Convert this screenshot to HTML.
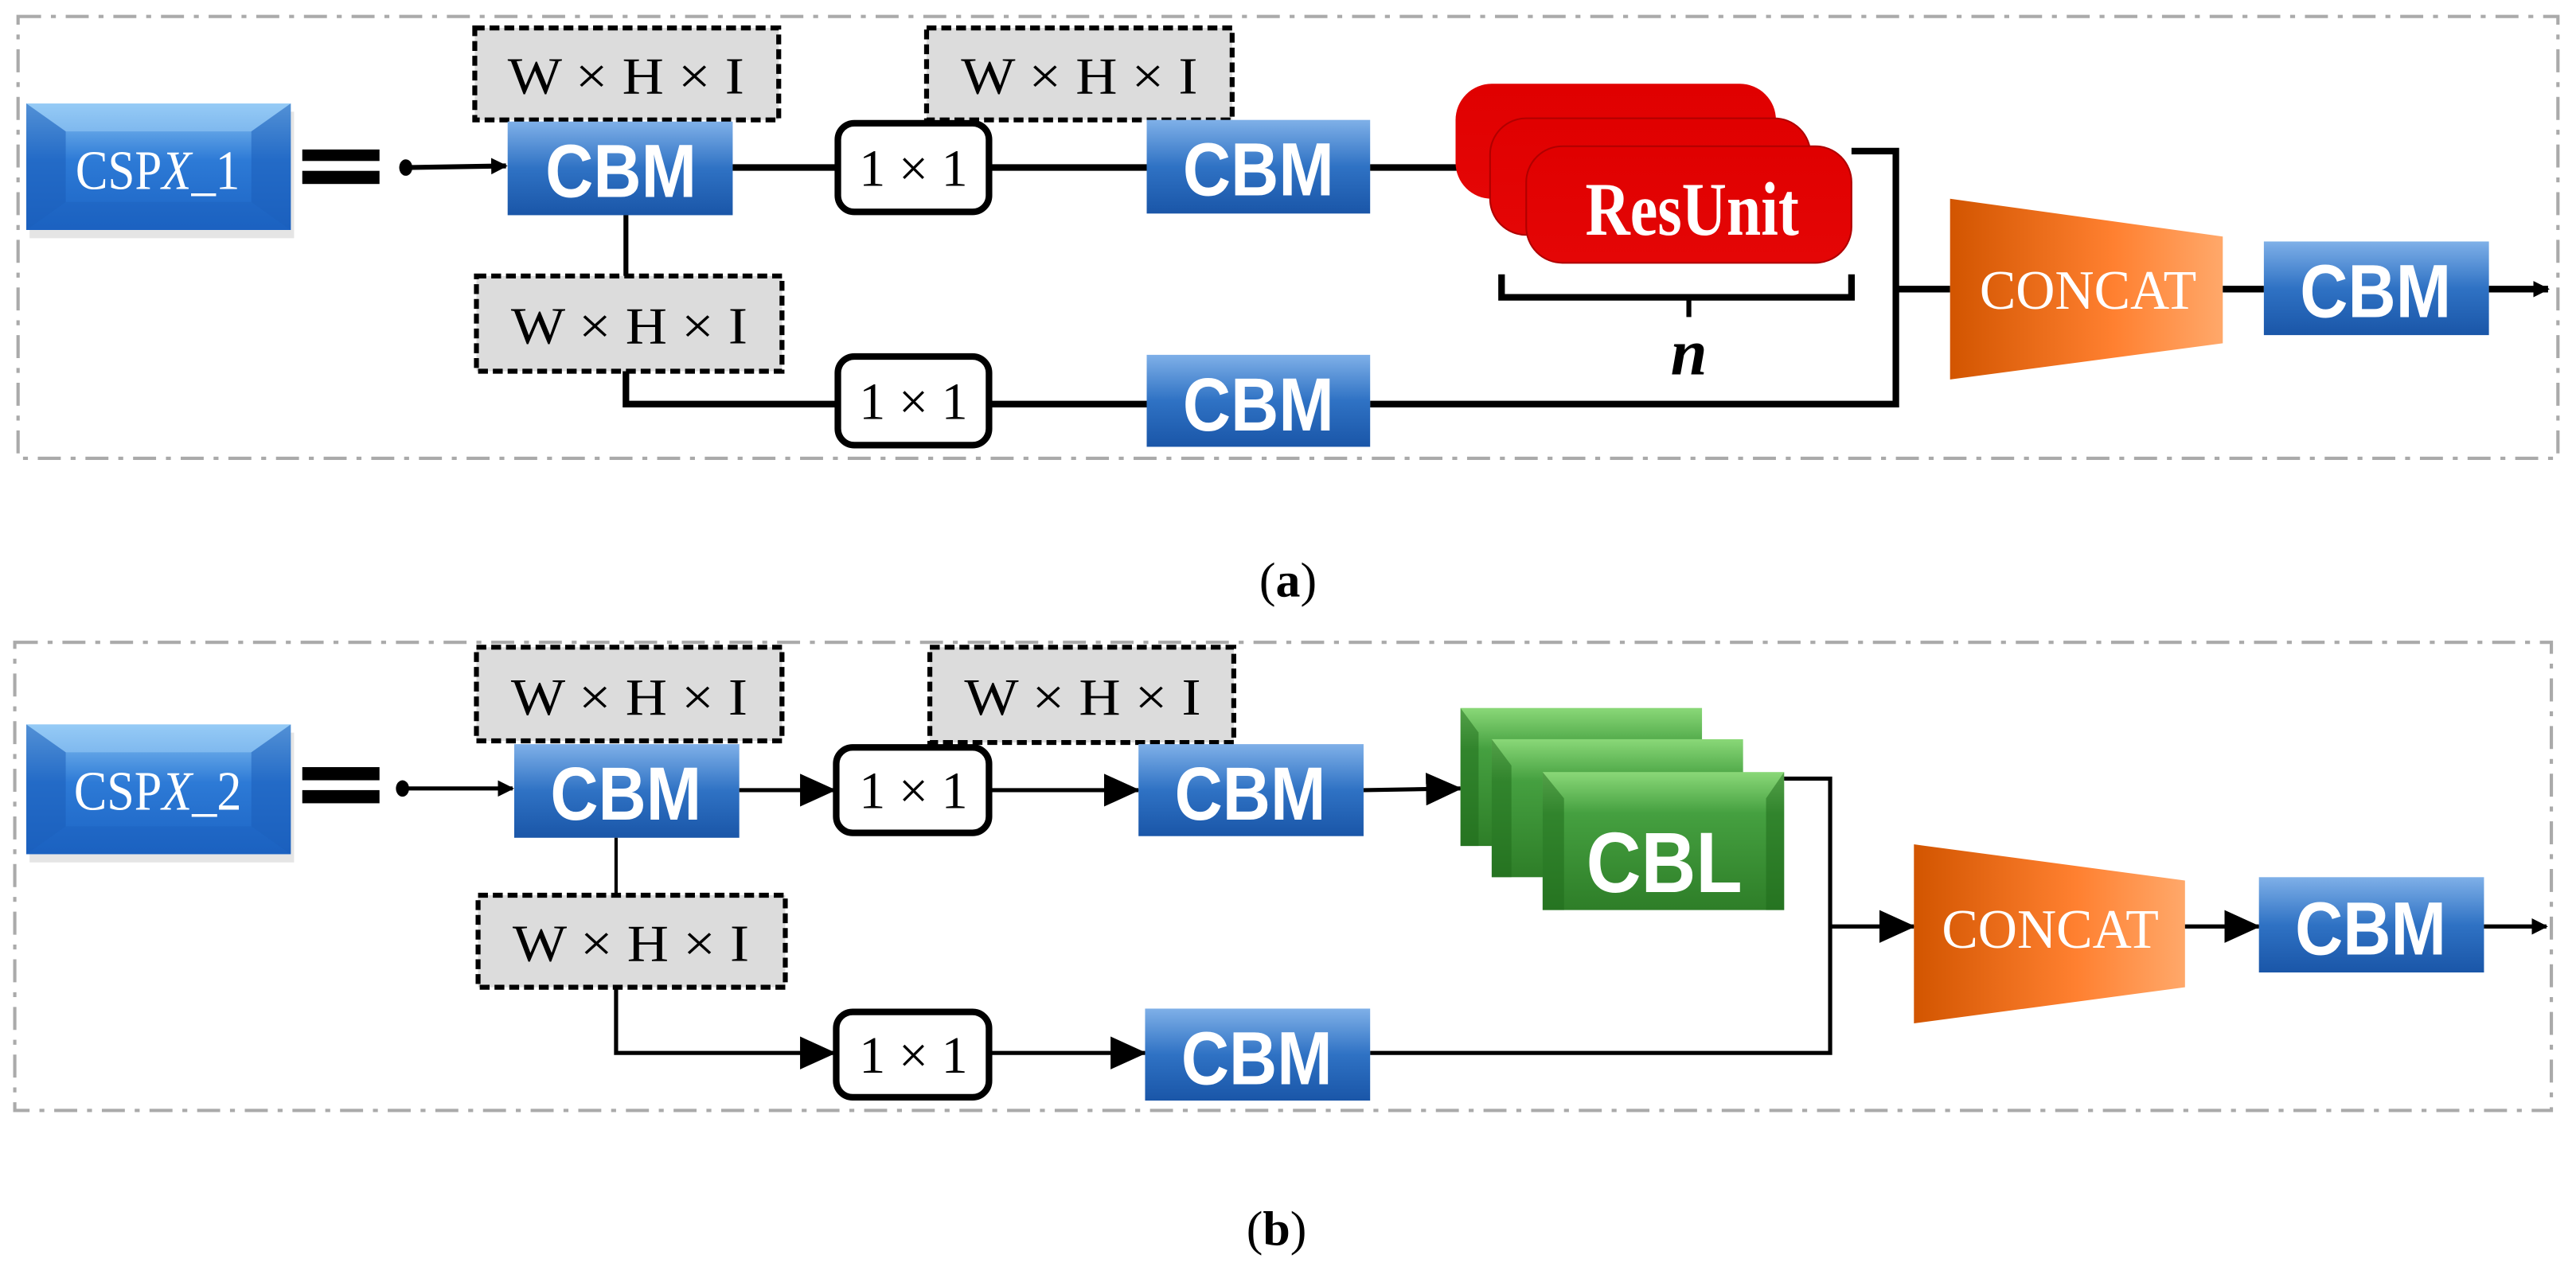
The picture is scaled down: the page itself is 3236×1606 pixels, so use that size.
<!DOCTYPE html>
<html><head><meta charset="utf-8"><style>
html,body{margin:0;padding:0;background:#fff;}
svg{display:block;}
.w{font-family:"Liberation Serif",serif;font-size:32px;fill:#000;}
.cbm{font-family:"Liberation Sans",sans-serif;font-weight:bold;font-size:46px;fill:#fff;}
</style></head><body>
<svg width="3236" height="1606" viewBox="0 0 1568 778" preserveAspectRatio="none" xmlns="http://www.w3.org/2000/svg">
<defs>
<linearGradient id="bl" x1="0" y1="0" x2="0" y2="1"><stop offset="0" stop-color="#7fb0e8"/><stop offset="0.5" stop-color="#2f72c4"/><stop offset="1" stop-color="#1a56a8"/></linearGradient>
<linearGradient id="cs" x1="0" y1="0" x2="0" y2="1"><stop offset="0" stop-color="#8cc6f4"/><stop offset="0.45" stop-color="#2d7ad6"/><stop offset="1" stop-color="#1c64c4"/></linearGradient>
<linearGradient id="or" x1="0" y1="0" x2="1" y2="0"><stop offset="0" stop-color="#d25500"/><stop offset="0.6" stop-color="#ff8030"/><stop offset="1" stop-color="#ffa86a"/></linearGradient>
<linearGradient id="rd" x1="0" y1="0" x2="0" y2="1"><stop offset="0" stop-color="#e00000"/><stop offset="1" stop-color="#e40606"/></linearGradient>
<linearGradient id="gr" x1="0" y1="0" x2="0" y2="1"><stop offset="0" stop-color="#8ad878"/><stop offset="0.3" stop-color="#45a040"/><stop offset="1" stop-color="#2e7e28"/></linearGradient>
<marker id="ah" markerWidth="10" markerHeight="10" refX="9" refY="5" orient="auto" markerUnits="userSpaceOnUse"><path d="M0,0 L10,5 L0,10 z" fill="#000"/></marker>
<marker id="ab" markerWidth="22" markerHeight="20" refX="21" refY="10" orient="auto" markerUnits="userSpaceOnUse"><path d="M0,0 L22,10 L0,20 z" fill="#000"/></marker>
</defs>

<!-- ===== Panel a ===== -->
<rect x="11" y="10" width="1546" height="269" fill="none" stroke="#aaa" stroke-width="2" stroke-dasharray="14,6,3,6"/>
<rect x="18" y="68" width="161" height="77" fill="#ccc" opacity="0.5"/>
<rect x="16" y="63" width="161" height="77" fill="url(#cs)"/>
<polygon points="16,63 177,63 153,80 40,80" fill="#9fd0f8" opacity="0.5"/>
<polygon points="16,63 40,80 40,123 16,140" fill="#1a5cb8" opacity="0.5"/>
<polygon points="177,63 153,80 153,123 177,140" fill="#1a5cb8" opacity="0.5"/>
<polygon points="16,140 40,123 153,123 177,140" fill="#1a5cb8" opacity="0.3"/>
<text x="96" y="115" text-anchor="middle" font-family="Liberation Serif,serif" font-size="34" fill="#fff" textLength="100" lengthAdjust="spacingAndGlyphs">CSP<tspan font-style="italic">X</tspan>_1</text>
<rect x="184" y="91" width="47" height="7" fill="#000"/>
<rect x="184" y="104" width="47" height="8" fill="#000"/>
<ellipse cx="247" cy="102" rx="4" ry="5" fill="#000"/>
<line x1="247" y1="102" x2="308" y2="101" stroke="#000" stroke-width="3" marker-end="url(#ah)"/>
<rect x="289" y="17" width="185" height="56" fill="#dcdcdc" stroke="#000" stroke-width="3" stroke-dasharray="6,3"/>
<text x="381" y="57" class="w" text-anchor="middle" textLength="144" lengthAdjust="spacingAndGlyphs">W × H × I</text>
<rect x="309" y="74" width="137" height="57" fill="url(#bl)"/>
<text x="378" y="120" class="cbm" text-anchor="middle" textLength="92" lengthAdjust="spacingAndGlyphs">CBM</text>
<line x1="446" y1="102" x2="510" y2="102" stroke="#000" stroke-width="4"/>
<rect x="510" y="75" width="92" height="54" rx="10" fill="#fff" stroke="#000" stroke-width="4"/>
<text x="556" y="113" class="w" text-anchor="middle">1 × 1</text>
<line x1="602" y1="102" x2="698" y2="102" stroke="#000" stroke-width="4"/>
<rect x="564" y="17" width="186" height="56" fill="#dcdcdc" stroke="#000" stroke-width="3" stroke-dasharray="6,3"/>
<text x="657" y="57" class="w" text-anchor="middle" textLength="144" lengthAdjust="spacingAndGlyphs">W × H × I</text>
<rect x="698" y="73" width="136" height="57" fill="url(#bl)"/>
<text x="766" y="119" class="cbm" text-anchor="middle" textLength="92" lengthAdjust="spacingAndGlyphs">CBM</text>
<line x1="834" y1="102" x2="890" y2="102" stroke="#000" stroke-width="4"/>
<rect x="886" y="51" width="195" height="70" rx="22" fill="url(#rd)"/>
<rect x="907" y="72" width="195" height="71" rx="22" fill="url(#rd)" stroke="#b00000" stroke-width="1"/>
<rect x="929" y="89" width="198" height="71" rx="22" fill="url(#rd)" stroke="#b00000" stroke-width="1"/>
<text x="1030" y="143" text-anchor="middle" font-family="Liberation Serif,serif" font-weight="bold" font-size="46" fill="#fff" textLength="130" lengthAdjust="spacingAndGlyphs">ResUnit</text>
<polyline points="1127,92 1154,92 1154,246 834,246" fill="none" stroke="#000" stroke-width="4"/>
<polyline points="914,167 914,181 1127,181 1127,167" fill="none" stroke="#000" stroke-width="4"/>
<line x1="1028" y1="181" x2="1028" y2="193" stroke="#000" stroke-width="3"/>
<text x="1028" y="228" text-anchor="middle" font-family="Liberation Serif,serif" font-weight="bold" font-style="italic" font-size="40" fill="#000">n</text>
<line x1="1154" y1="176" x2="1187" y2="176" stroke="#000" stroke-width="4"/>
<polygon points="1187,121 1353,144 1353,209 1187,231" fill="url(#or)"/>
<text x="1271" y="188" text-anchor="middle" font-family="Liberation Serif,serif" font-size="34" fill="#fff" textLength="132" lengthAdjust="spacingAndGlyphs">CONCAT</text>
<line x1="1353" y1="176" x2="1378" y2="176" stroke="#000" stroke-width="4"/>
<rect x="1378" y="147" width="137" height="57" fill="url(#bl)"/>
<text x="1446" y="193" class="cbm" text-anchor="middle" textLength="92" lengthAdjust="spacingAndGlyphs">CBM</text>
<line x1="1515" y1="176" x2="1551" y2="176" stroke="#000" stroke-width="4" marker-end="url(#ah)"/>
<line x1="381" y1="131" x2="381" y2="168" stroke="#000" stroke-width="3"/>
<rect x="290" y="168" width="186" height="58" fill="#dcdcdc" stroke="#000" stroke-width="3" stroke-dasharray="6,3"/>
<text x="383" y="209" class="w" text-anchor="middle" textLength="144" lengthAdjust="spacingAndGlyphs">W × H × I</text>
<polyline points="381,226 381,246 510,246" fill="none" stroke="#000" stroke-width="4"/>
<rect x="510" y="217" width="92" height="54" rx="10" fill="#fff" stroke="#000" stroke-width="4"/>
<text x="556" y="255" class="w" text-anchor="middle">1 × 1</text>
<line x1="602" y1="246" x2="698" y2="246" stroke="#000" stroke-width="4"/>
<rect x="698" y="216" width="136" height="56" fill="url(#bl)"/>
<text x="766" y="262" class="cbm" text-anchor="middle" textLength="92" lengthAdjust="spacingAndGlyphs">CBM</text>
<text x="784" y="363" text-anchor="middle" font-family="Liberation Serif,serif" font-size="30" fill="#000">(<tspan font-weight="bold">a</tspan>)</text>

<!-- ===== Panel b ===== -->
<rect x="9" y="391" width="1544" height="285" fill="none" stroke="#aaa" stroke-width="2" stroke-dasharray="14,6,3,6"/>
<rect x="18" y="446" width="161" height="79" fill="#ccc" opacity="0.5"/>
<rect x="16" y="441" width="161" height="79" fill="url(#cs)"/>
<polygon points="16,441 177,441 153,458 40,458" fill="#9fd0f8" opacity="0.5"/>
<polygon points="16,441 40,458 40,503 16,520" fill="#1a5cb8" opacity="0.5"/>
<polygon points="177,441 153,458 153,503 177,520" fill="#1a5cb8" opacity="0.5"/>
<polygon points="16,520 40,503 153,503 177,520" fill="#1a5cb8" opacity="0.3"/>
<text x="96" y="493" text-anchor="middle" font-family="Liberation Serif,serif" font-size="34" fill="#fff" textLength="102" lengthAdjust="spacingAndGlyphs">CSP<tspan font-style="italic">X</tspan>_2</text>
<rect x="184" y="467" width="47" height="8" fill="#000"/>
<rect x="184" y="481" width="47" height="8" fill="#000"/>
<ellipse cx="245" cy="480" rx="4" ry="5" fill="#000"/>
<line x1="245" y1="480" x2="312" y2="480" stroke="#000" stroke-width="2.5" marker-end="url(#ah)"/>
<rect x="290" y="394" width="186" height="57" fill="#dcdcdc" stroke="#000" stroke-width="3" stroke-dasharray="6,3"/>
<text x="383" y="435" class="w" text-anchor="middle" textLength="144" lengthAdjust="spacingAndGlyphs">W × H × I</text>
<rect x="313" y="453" width="137" height="57" fill="url(#bl)"/>
<text x="381" y="499" class="cbm" text-anchor="middle" textLength="92" lengthAdjust="spacingAndGlyphs">CBM</text>
<line x1="450" y1="481" x2="508" y2="481" stroke="#000" stroke-width="2.5" marker-end="url(#ab)"/>
<rect x="509" y="455" width="93" height="52" rx="10" fill="#fff" stroke="#000" stroke-width="4"/>
<text x="556" y="492" class="w" text-anchor="middle">1 × 1</text>
<line x1="602" y1="481" x2="693" y2="481" stroke="#000" stroke-width="2.5" marker-end="url(#ab)"/>
<rect x="566" y="394" width="185" height="58" fill="#dcdcdc" stroke="#000" stroke-width="3" stroke-dasharray="6,3"/>
<text x="659" y="435" class="w" text-anchor="middle" textLength="144" lengthAdjust="spacingAndGlyphs">W × H × I</text>
<rect x="693" y="453" width="137" height="56" fill="url(#bl)"/>
<text x="761" y="499" class="cbm" text-anchor="middle" textLength="92" lengthAdjust="spacingAndGlyphs">CBM</text>
<line x1="830" y1="481" x2="889" y2="480" stroke="#000" stroke-width="2.5" marker-end="url(#ab)"/>
<rect x="889" y="431" width="147" height="84" fill="url(#gr)"/>
<polygon points="889,431 900,446 900,515 889,515" fill="#1e6a1a" opacity="0.5"/>
<rect x="908" y="450" width="153" height="84" fill="url(#gr)"/>
<polygon points="908,450 920,466 920,534 908,534" fill="#1e6a1a" opacity="0.5"/>
<rect x="939" y="470" width="147" height="84" fill="url(#gr)"/>
<polygon points="939,470 952,486 952,554 939,554" fill="#1e6a1a" opacity="0.5"/>
<polygon points="1086,470 1075,486 1075,554 1086,554" fill="#1e6a1a" opacity="0.5"/>
<text x="1013" y="543" text-anchor="middle" font-family="Liberation Sans,sans-serif" font-weight="bold" font-size="52" fill="#fff" textLength="95" lengthAdjust="spacingAndGlyphs">CBL</text>
<polyline points="1086,474 1114,474 1114,641 834,641" fill="none" stroke="#000" stroke-width="2.5"/>
<line x1="1114" y1="564" x2="1165" y2="564" stroke="#000" stroke-width="2.5" marker-end="url(#ab)"/>
<polygon points="1165,514 1330,536 1330,601 1165,623" fill="url(#or)"/>
<text x="1248" y="577" text-anchor="middle" font-family="Liberation Serif,serif" font-size="34" fill="#fff" textLength="132" lengthAdjust="spacingAndGlyphs">CONCAT</text>
<line x1="1330" y1="564" x2="1375" y2="564" stroke="#000" stroke-width="2.5" marker-end="url(#ab)"/>
<rect x="1375" y="534" width="137" height="58" fill="url(#bl)"/>
<text x="1443" y="581" class="cbm" text-anchor="middle" textLength="92" lengthAdjust="spacingAndGlyphs">CBM</text>
<line x1="1512" y1="564" x2="1550" y2="564" stroke="#000" stroke-width="2.5" marker-end="url(#ah)"/>
<line x1="375" y1="510" x2="375" y2="545" stroke="#000" stroke-width="2"/>
<rect x="291" y="545" width="187" height="56" fill="#dcdcdc" stroke="#000" stroke-width="3" stroke-dasharray="6,3"/>
<text x="384" y="585" class="w" text-anchor="middle" textLength="144" lengthAdjust="spacingAndGlyphs">W × H × I</text>
<polyline points="375,601 375,641 508,641" fill="none" stroke="#000" stroke-width="2.5" marker-end="url(#ab)"/>
<rect x="509" y="616" width="93" height="52" rx="10" fill="#fff" stroke="#000" stroke-width="4"/>
<text x="556" y="653" class="w" text-anchor="middle">1 × 1</text>
<line x1="602" y1="641" x2="697" y2="641" stroke="#000" stroke-width="2.5" marker-end="url(#ab)"/>
<rect x="697" y="614" width="137" height="56" fill="url(#bl)"/>
<text x="765" y="660" class="cbm" text-anchor="middle" textLength="92" lengthAdjust="spacingAndGlyphs">CBM</text>
<text x="777" y="758" text-anchor="middle" font-family="Liberation Serif,serif" font-size="30" fill="#000">(<tspan font-weight="bold">b</tspan>)</text>
</svg>
</body></html>
